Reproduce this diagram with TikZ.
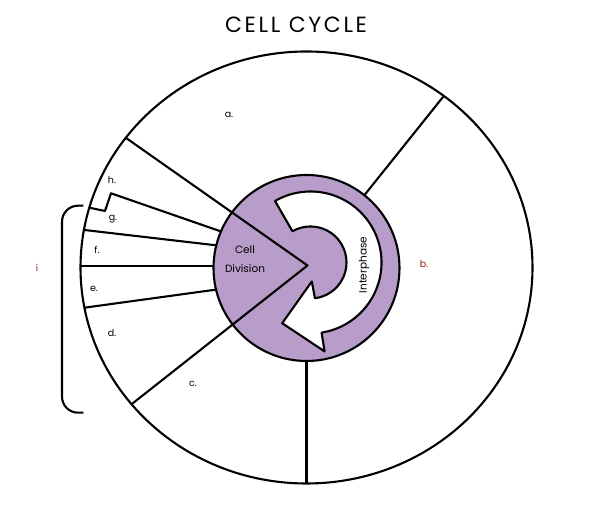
\documentclass[tikz,border=0pt]{standalone}
\usepackage{fontspec}
\setmainfont{Poppins}
\usetikzlibrary{calc}
\definecolor{phasepurple}{RGB}{184,156,201}
\definecolor{labelred}{RGB}{150,30,20}
\tikzset{
  seg/.style={line width=2.1pt},
  lbl/.style={font=\fontsize{9.5}{10}\selectfont},
}
\begin{document}
\begin{tikzpicture}[x=1pt, y=1pt, line join=round]
    \useasboundingbox (0,0) rectangle (592,505);
    % Centres of the rings and of the arrow
    \coordinate (o) at (306.5,237.5);
    \coordinate (a) at (310.5,242.5);
    \coordinate (tip) at (307.5,239.5);

    % Title
    \node (title) at (296,480) {\fontsize{22}{24}\selectfont\addfontfeatures{LetterSpace=12}CELL CYCLE};

    % Outer circle
    \draw[seg] (o) ellipse [x radius=226pt, y radius=216pt];

    % Phase lines (inner ends are hidden by the disc)
    \draw[seg] (o) -- (443.8,409);
    \draw[seg] (o) -- (306.5,21.5);
    \draw[seg] (89.3,297.3) -- (105,294) -- (111,311.7) -- (226.6,271.6);
    \draw[seg] (84.5,275) -- (222,259);
    \draw[seg] (80.5,239) -- (222,239);
    \draw[seg] (84.5,197.3) -- (222,216.2);

    % Inner disc
    \draw[seg, fill=phasepurple] (306.5,237) circle [radius=93pt];

    % Curved arrow
    \draw[seg, fill=white] ($(a)+(120:71)$) -- ($(a)+(120:36)$)
        arc [start angle=120, end angle=-83, radius=36pt]
        -- ($(a)+(-86:19)$) -- ($(a)+(-115:67)$) -- ($(a)+(-81:90)$)
        -- ($(a)+(-81:71)$)
        arc [start angle=-81, end angle=120, radius=71pt] -- cycle;

    % Cell division wedge
    \draw[seg] (125.8,367.2) -- (tip) -- (131.6,100.8);

    % Bracket
    \draw[seg, rounded corners=16pt] (83.3,299.3) -- (62,299.3) -- (62,92.3) -- (83.3,92.3);

    % Labels
    \node[font=\fontsize{10.5}{19.5}\selectfont, align=center] (div) at (245,246) {Cell\\Division};
    \node[font=\fontsize{10.5}{12}\selectfont, rotate=90] (inter) at (364,240) {Interphase};
    \node[lbl] (la) at (229,390) {a.};
    \node[lbl, text=labelred] (lb) at (424,241) {b.};
    \node[lbl] (lc) at (193,121) {c.};
    \node[lbl] (ld) at (112,172) {d.};
    \node[lbl] (le) at (94,216) {e.};
    \node[lbl] (lf) at (97,255) {f.};
    \node[lbl] (lg) at (113,286) {g.};
    \node[lbl] (lh) at (112,325) {h.};
    \node[lbl, text=labelred] (li) at (37,237) {i};
\end{tikzpicture}
\end{document}
